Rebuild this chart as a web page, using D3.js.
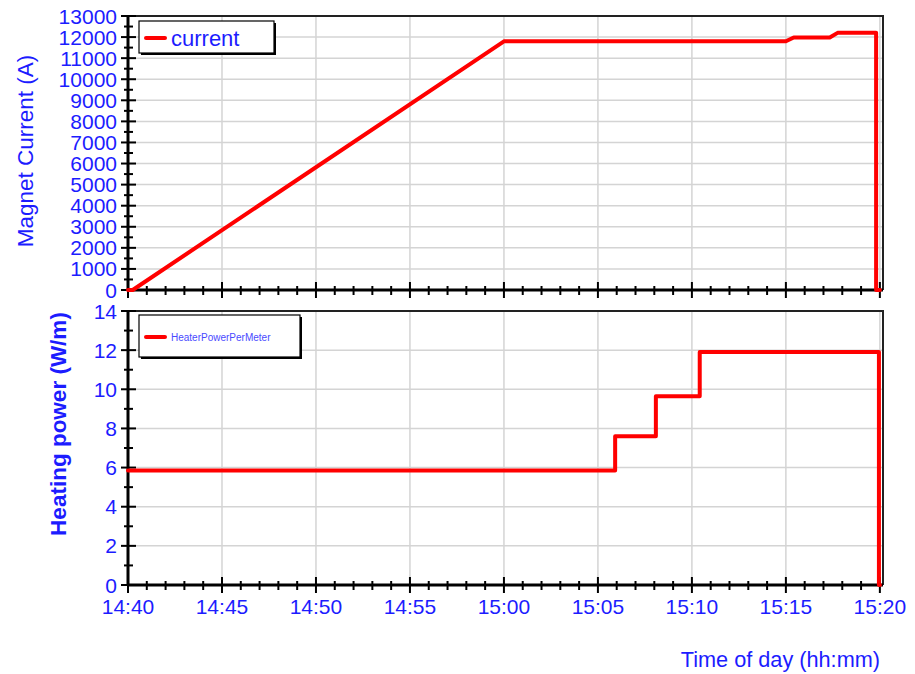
<!DOCTYPE html>
<html>
<head>
<meta charset="utf-8">
<script src="https://cdn.jsdelivr.net/npm/d3@7"></script>
<style>
  html, body { margin: 0; padding: 0; background: #fff; }
  svg { display: block; font-family: "Liberation Sans", Arial, sans-serif; }
</style>
</head>
<body>
<svg id="chart" width="915" height="674"></svg>
<script>
// Magnet current ramp (A) against time of day
const currentTimes  = ["14:40:00", "14:40:15", "15:00:00", "15:15:00", "15:15:25", "15:17:20", "15:17:45", "15:19:48", "15:19:48", "15:20:00"];
const currentValues = [0, 0, 11800, 11800, 11980, 11980, 12200, 12200, 0, 0];

// Heater power per metre (W/m), stepped
const heaterTimes  = ["14:40:00", "15:05:55", "15:08:05", "15:10:25", "15:19:57", "15:20:00"];
const heaterValues = [5.85, 7.6, 9.65, 11.9, 0, 0];

// Axis settings
const timeDomain   = ["14:40:00", "15:20:10"];
const currentTicks = d3.range(0, 13001, 1000);
const currentMinor = d3.range(500, 13000, 1000);
const heaterTicks  = d3.range(0, 15, 2);
const heaterMinor  = d3.range(1, 14, 2);

const currentLabel = "current";
const heaterLabel  = "HeaterPowerPerMeter";
const currentTitle = "Magnet Current (A)";
const heaterTitle  = "Heating power (W/m)";
const timeTitle    = "Time of day (hh:mm)";

const BLUE = "#1c1cff";
const parseT = d3.timeParse("%H:%M:%S");
const svg = d3.select("#chart");

const L = 128, R = 883;
const top1 = 16, bot1 = 290;
const top2 = 311, bot2 = 585;

const x = d3.scaleTime().domain(timeDomain.map(parseT)).range([L, R]);
const y1 = d3.scaleLinear().domain([0, 13000]).range([bot1, top1]);
const y2 = d3.scaleLinear().domain([0, 14]).range([bot2, top2]);

const majorX = d3.timeMinute.every(5).range(parseT("14:40:00"), parseT("15:20:01"));
const minorX = d3.timeMinute.every(1).range(parseT("14:40:00"), parseT("15:20:01"))
  .filter(d => d.getMinutes() % 5 !== 0);

function panel(y, yTop, yBot, ticks, minor, fmt) {
  const g = svg.append("g");
  // gridlines
  g.append("g").selectAll("line").data(majorX.slice(1)).join("line")
    .attr("x1", d => x(d)).attr("x2", d => x(d))
    .attr("y1", yTop).attr("y2", yBot)
    .attr("stroke", "#d4d4d4").attr("stroke-width", 1.5);
  g.append("g").selectAll("line").data(ticks.slice(1)).join("line")
    .attr("x1", L).attr("x2", R)
    .attr("y1", d => y(d)).attr("y2", d => y(d))
    .attr("stroke", "#d4d4d4").attr("stroke-width", 1.5);
  // top and right frame
  g.append("path")
    .attr("d", `M${L},${yTop}H${R}V${yBot}`)
    .attr("fill", "none").attr("stroke", "#222").attr("stroke-width", 2);

  // left axis with crossing ticks
  const yAxis = g.append("g");
  yAxis.selectAll(".maj").data(ticks).join("line")
    .attr("x1", L - 7).attr("x2", L + 8)
    .attr("y1", d => y(d)).attr("y2", d => y(d))
    .attr("stroke", "#000").attr("stroke-width", 2);
  yAxis.selectAll(".min").data(minor).join("line")
    .attr("x1", L - 4).attr("x2", L + 5)
    .attr("y1", d => y(d)).attr("y2", d => y(d))
    .attr("stroke", "#000").attr("stroke-width", 2);
  yAxis.selectAll("text").data(ticks).join("text")
    .attr("x", L - 11).attr("y", d => y(d)).attr("dy", "0.36em")
    .attr("text-anchor", "end").attr("fill", BLUE)
    .style("font-size", "21px").text(fmt);
  g.append("line").attr("x1", L).attr("x2", L).attr("y1", yTop).attr("y2", yBot + 1)
    .attr("stroke", "#000").attr("stroke-width", 3);

  // bottom axis with crossing ticks
  g.append("g").selectAll("line").data(majorX).join("line")
    .attr("x1", d => x(d)).attr("x2", d => x(d))
    .attr("y1", yBot - 8).attr("y2", yBot + 8)
    .attr("stroke", "#000").attr("stroke-width", 2);
  g.append("g").selectAll("line").data(minorX).join("line")
    .attr("x1", d => x(d)).attr("x2", d => x(d))
    .attr("y1", yBot - 4).attr("y2", yBot + 5)
    .attr("stroke", "#000").attr("stroke-width", 2);
  g.append("line").attr("x1", L - 1).attr("x2", R).attr("y1", yBot).attr("y2", yBot)
    .attr("stroke", "#000").attr("stroke-width", 3);
  return g;
}

panel(y1, top1, bot1, currentTicks, currentMinor, d3.format("d"));
panel(y2, top2, bot2, heaterTicks, heaterMinor, d3.format("d"));

// time labels under the lower panel
svg.append("g").selectAll("text").data(majorX).join("text")
  .attr("x", d => x(d)).attr("y", 614)
  .attr("text-anchor", "middle").attr("fill", BLUE)
  .style("font-size", "21px").text(d3.timeFormat("%H:%M"));

// data lines
const line1 = d3.line()
  .x((d, i) => x(parseT(currentTimes[i])))
  .y(d => y1(d));
svg.append("path").datum(currentValues)
  .attr("d", line1)
  .attr("fill", "none").attr("stroke", "#ff0000").attr("stroke-width", 4)
  .attr("stroke-linejoin", "round").attr("stroke-linecap", "round");

const line2 = d3.line()
  .x((d, i) => x(parseT(heaterTimes[i])))
  .y(d => y2(d))
  .curve(d3.curveStepAfter);
svg.append("path").datum(heaterValues)
  .attr("d", line2)
  .attr("fill", "none").attr("stroke", "#ff0000").attr("stroke-width", 4)
  .attr("stroke-linejoin", "round").attr("stroke-linecap", "round");

// legends
function legend(x0, y0, w, h, label, size, color) {
  const g = svg.append("g");
  g.append("rect").attr("x", x0 + 2).attr("y", y0 + 2).attr("width", w).attr("height", h)
    .attr("fill", "#000");
  g.append("rect").attr("x", x0).attr("y", y0).attr("width", w).attr("height", h)
    .attr("fill", "#fff").attr("stroke", "#000").attr("stroke-width", 1.2);
  g.append("line").attr("x1", x0 + 7).attr("x2", x0 + 26)
    .attr("y1", y0 + h / 2 + 1).attr("y2", y0 + h / 2 + 1)
    .attr("stroke", "#ff0000").attr("stroke-width", 4).attr("stroke-linecap", "round");
  g.append("text").attr("x", x0 + 32).attr("y", y0 + h / 2 + 1).attr("dy", "0.36em")
    .attr("fill", color).style("font-size", size + "px").text(label);
}
legend(139, 21, 135, 32, currentLabel, 22, BLUE);
legend(139, 315, 161, 42, heaterLabel, 10, "#4a4aff");

// axis titles
svg.append("text")
  .attr("transform", "translate(33,151) rotate(-90)")
  .attr("text-anchor", "middle").attr("fill", BLUE)
  .style("font-size", "22.5px").text(currentTitle);
svg.append("text")
  .attr("transform", "translate(66,424) rotate(-90)")
  .attr("text-anchor", "middle").attr("fill", BLUE)
  .style("font-size", "22.5px").style("font-weight", "bold").text(heaterTitle);
svg.append("text")
  .attr("x", 880).attr("y", 667)
  .attr("text-anchor", "end").attr("fill", BLUE)
  .style("font-size", "21.7px").text(timeTitle);
</script>
</body>
</html>
